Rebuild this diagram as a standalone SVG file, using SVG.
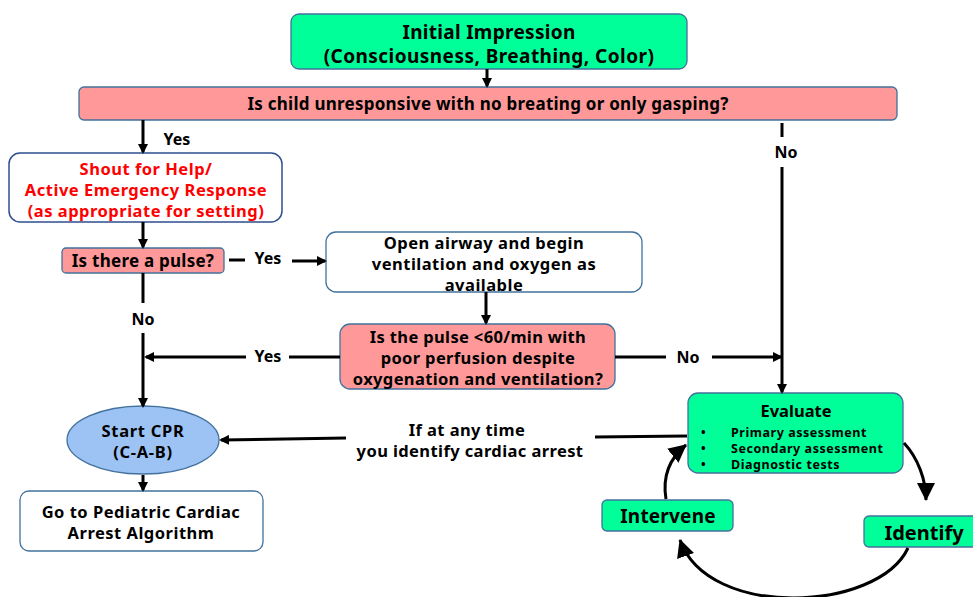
<svg xmlns="http://www.w3.org/2000/svg" width="973" height="597" viewBox="0 0 973 597">
<defs>
<marker id="ah" markerWidth="10" markerHeight="10" refX="8" refY="5" orient="auto" markerUnits="userSpaceOnUse" viewBox="0 0 10 10">
<path d="M0,0 L10,5 L0,10 z" fill="#000"/>
</marker>
<marker id="big" markerWidth="18" markerHeight="18" refX="17" refY="9" orient="auto" markerUnits="userSpaceOnUse" viewBox="0 0 18 18">
<path d="M0,0 L18,9 L0,18 z" fill="#000"/>
</marker>
<style>
text{font-family:"Noto Sans","Liberation Sans",Arial,"Noto Sans CJK KR",sans-serif;font-weight:bold;text-anchor:middle;fill:#000;font-size:16.5px;letter-spacing:0.5px}
.one{font-size:17px;letter-spacing:0.25px}
.green{fill:#00FF99;stroke:#41719C;stroke-width:1.3}
.red{fill:#FF9999;stroke:#41719C;stroke-width:1.3}
.white{fill:#fff;stroke:#41719C;stroke-width:1.3}
.navy{fill:#fff;stroke:#2F4F8F;stroke-width:1.5}
.blue{fill:#9DC3F5;stroke:#41719C;stroke-width:1.3}
.ln{fill:none;stroke:#000;stroke-width:3}
.arr{marker-end:url(#ah)}
.lbl{font-size:16px;letter-spacing:0}
.rt{fill:#FF0000}
.bl{text-anchor:start;font-size:12.5px;letter-spacing:0.55px}
</style>
</defs>
<rect width="973" height="597" fill="#fff"/>

<g id="initial">
<rect class="green" x="291" y="14" width="396" height="55" rx="8"/>
<text x="489" y="39" style="font-size:19px;letter-spacing:0.3px">Initial Impression</text>
<text x="489" y="63" style="font-size:19px;letter-spacing:0.45px">(Consciousness, Breathing, Color)</text>
</g>

<g id="unresponsive">
<rect class="red" x="79" y="87" width="818" height="33" rx="5"/>
<text class="one" x="488" y="110">Is child unresponsive with no breating or only gasping?</text>
</g>

<g id="shout">
<rect class="navy" x="9" y="153" width="273" height="69" rx="11"/>
<text class="rt" x="146" y="175">Shout for Help/</text>
<text class="rt" x="146" y="196">Active Emergency Response</text>
<text class="rt" x="146" y="217">(as appropriate for setting)</text>
</g>

<g id="pulse">
<rect class="red" x="62" y="248" width="162" height="25" rx="4"/>
<text class="one" x="143" y="267">Is there a pulse?</text>
</g>

<g id="airway">
<rect class="white" x="326" y="232" width="316" height="60" rx="10"/>
<text x="484" y="249">Open airway and begin</text>
<text x="484" y="270">ventilation and oxygen as</text>
<text x="484" y="291">available</text>
</g>

<g id="pulse60">
<rect class="red" x="340" y="324" width="275" height="65" rx="10"/>
<text x="478" y="343" style="letter-spacing:0.35px">Is the pulse &lt;60/min with</text>
<text x="478" y="364" style="letter-spacing:0.35px">poor perfusion despite</text>
<text x="478" y="385" style="letter-spacing:0.35px">oxygenation and ventilation?</text>
</g>

<g id="cpr">
<ellipse class="blue" cx="143" cy="440" rx="76" ry="34"/>
<text x="143" y="437" style="letter-spacing:0.7px">Start CPR</text>
<text x="143" y="458" style="letter-spacing:0.7px">(C-A-B)</text>
</g>

<g id="goto">
<rect class="white" x="20" y="491" width="243" height="60" rx="9"/>
<text x="141" y="518">Go to Pediatric Cardiac</text>
<text x="141" y="539">Arrest Algorithm</text>
</g>

<g id="evaluate">
<rect class="green" x="688" y="393" width="215" height="80" rx="10"/>
<text x="796" y="416.5" style="font-size:16.5px;letter-spacing:0">Evaluate</text>
<text class="bl" x="701" y="436.5">•</text>
<text class="bl" x="731" y="436.5">Primary assessment</text>
<text class="bl" x="701" y="452.5">•</text>
<text class="bl" x="731" y="452.5">Secondary assessment</text>
<text class="bl" x="701" y="468.5">•</text>
<text class="bl" x="731" y="468.5">Diagnostic tests</text>
</g>

<g id="intervene">
<rect class="green" x="602" y="500" width="131" height="31" rx="5"/>
<text x="668" y="523" style="font-size:19px;letter-spacing:0.2px">Intervene</text>
</g>

<g id="identify">
<rect class="green" x="864" y="516" width="115" height="31" rx="5"/>
<text x="924" y="540" style="font-size:20px;letter-spacing:0">Identify</text>
</g>

<g id="connectors">
<line class="ln arr" x1="487" y1="69" x2="487" y2="86"/>
<line class="ln arr" x1="143" y1="120" x2="143" y2="152"/>
<text class="lbl" x="177" y="145">Yes</text>
<line class="ln arr" x1="143" y1="222" x2="143" y2="247"/>
<line class="ln" x1="229" y1="260" x2="245" y2="260"/>
<text class="lbl" x="268" y="264">Yes</text>
<line class="ln arr" x1="292" y1="261" x2="325" y2="261"/>
<line class="ln arr" x1="486" y1="292" x2="486" y2="323"/>
<line class="ln" x1="143" y1="273" x2="143" y2="303"/>
<text class="lbl" x="143" y="325">No</text>
<line class="ln arr" x1="143" y1="333" x2="143" y2="406"/>
<line class="ln" x1="340" y1="357" x2="289" y2="357"/>
<text class="lbl" x="268" y="362">Yes</text>
<line class="ln arr" x1="246" y1="357" x2="146" y2="357"/>
<line class="ln" x1="615" y1="357" x2="666" y2="357"/>
<text class="lbl" x="688" y="363">No</text>
<line class="ln arr" x1="712" y1="357" x2="781" y2="357"/>
<line class="ln" x1="782" y1="123" x2="782" y2="137"/>
<text class="lbl" x="786" y="158">No</text>
<line class="ln arr" x1="782" y1="167" x2="782" y2="392"/>
<line class="ln arr" x1="143" y1="475" x2="143" y2="490"/>
<line class="ln" x1="687" y1="436" x2="595" y2="437"/>
<text x="467" y="436" style="letter-spacing:0.4px">If at any time</text>
<text x="470" y="457" style="letter-spacing:0.4px">you identify cardiac arrest</text>
<line class="ln arr" x1="346" y1="438" x2="221" y2="440"/>
<path class="ln" d="M904,443 C918,458 926,480 926,500" marker-end="url(#big)"/>
<path class="ln" d="M908,548 C878,612 708,620 680,540" marker-end="url(#big)"/>
<path class="ln" d="M666,499 C662,475 670,458 686,445" marker-end="url(#big)"/>
</g>
</svg>
